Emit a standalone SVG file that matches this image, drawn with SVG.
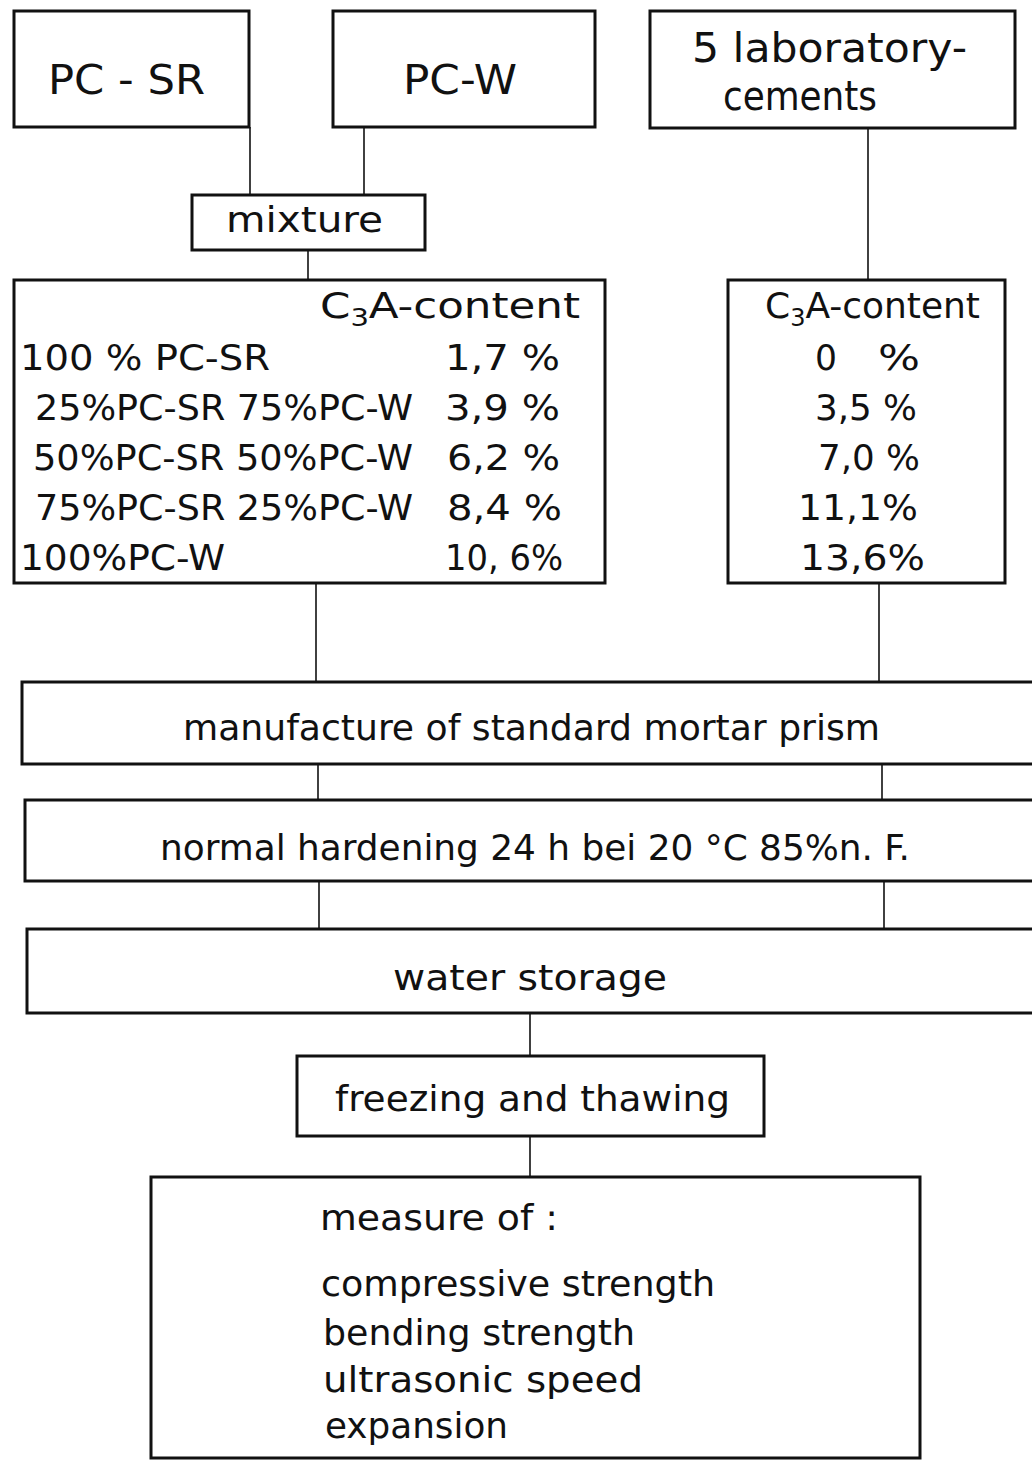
<svg xmlns="http://www.w3.org/2000/svg" width="1032" height="1461" viewBox="0 0 1032 1461">
<style>
.box{fill:none;stroke:#111;stroke-width:3}
.ln{stroke:#111;stroke-width:1.6;fill:none}
text{font-family:"DejaVu Sans Condensed","DejaVu Sans",sans-serif;fill:#111;font-size:36px}
.big{font-size:40px}
</style>
<rect width="1032" height="1461" fill="#fff"/>
<g id="connectors">
<line class="ln" x1="250" y1="127" x2="250" y2="195"/>
<line class="ln" x1="364" y1="127" x2="364" y2="195"/>
<line class="ln" x1="308" y1="250" x2="308" y2="280"/>
<line class="ln" x1="868" y1="128" x2="868" y2="280"/>
<line class="ln" x1="316" y1="583" x2="316" y2="682"/>
<line class="ln" x1="879" y1="583" x2="879" y2="682"/>
<line class="ln" x1="318" y1="764" x2="318" y2="800"/>
<line class="ln" x1="882" y1="764" x2="882" y2="800"/>
<line class="ln" x1="319" y1="881" x2="319" y2="929"/>
<line class="ln" x1="884" y1="881" x2="884" y2="929"/>
<line class="ln" x1="530" y1="1013" x2="530" y2="1056"/>
<line class="ln" x1="530" y1="1136" x2="530" y2="1177"/>
</g>
<g id="pcsr">
<rect class="box" x="14" y="11" width="235" height="116"/>
<text class="big" x="48" y="94" textLength="157" lengthAdjust="spacingAndGlyphs">PC - SR</text>
</g>
<g id="pcw">
<rect class="box" x="333" y="11" width="262" height="116"/>
<text class="big" x="403" y="94" textLength="114" lengthAdjust="spacingAndGlyphs">PC-W</text>
</g>
<g id="lab">
<rect class="box" x="650" y="11" width="365" height="117"/>
<text class="big" x="692" y="62" textLength="275" lengthAdjust="spacingAndGlyphs">5 laboratory-</text>
<text class="big" x="723" y="110" textLength="154" lengthAdjust="spacingAndGlyphs">cements</text>
</g>
<g id="mixture">
<rect class="box" x="192" y="195" width="233" height="55"/>
<text x="226" y="232" textLength="157" lengthAdjust="spacingAndGlyphs">mixture</text>
</g>
<g id="table-left">
<rect class="box" x="14" y="280" width="591" height="303"/>
<text x="320" y="318" textLength="260" lengthAdjust="spacingAndGlyphs">C<tspan font-size="24" dy="8">3</tspan><tspan dy="-8">A-content</tspan></text>
<text x="20" y="370" textLength="250" lengthAdjust="spacingAndGlyphs">100 % PC-SR</text>
<text x="445" y="370" textLength="115" lengthAdjust="spacingAndGlyphs">1,7 %</text>
<text x="35" y="420" textLength="378" lengthAdjust="spacingAndGlyphs">25%PC-SR 75%PC-W</text>
<text x="445" y="420" textLength="115" lengthAdjust="spacingAndGlyphs">3,9 %</text>
<text x="33" y="470" textLength="380" lengthAdjust="spacingAndGlyphs">50%PC-SR  50%PC-W</text>
<text x="447" y="470" textLength="113" lengthAdjust="spacingAndGlyphs">6,2 %</text>
<text x="35" y="520" textLength="378" lengthAdjust="spacingAndGlyphs">75%PC-SR 25%PC-W</text>
<text x="447" y="520" textLength="115" lengthAdjust="spacingAndGlyphs">8,4 %</text>
<text x="20" y="570" textLength="205" lengthAdjust="spacingAndGlyphs">100%PC-W</text>
<text x="445" y="570" textLength="118" lengthAdjust="spacingAndGlyphs">10, 6%</text>
</g>
<g id="table-right">
<rect class="box" x="728" y="280" width="277" height="303"/>
<text x="765" y="318" textLength="215" lengthAdjust="spacingAndGlyphs">C<tspan font-size="24" dy="8">3</tspan><tspan dy="-8">A-content</tspan></text>
<text x="815" y="370" textLength="22" lengthAdjust="spacingAndGlyphs">0</text>
<text x="878" y="370" textLength="42" lengthAdjust="spacingAndGlyphs">%</text>
<text x="815" y="420" textLength="102" lengthAdjust="spacingAndGlyphs">3,5 %</text>
<text x="818" y="470" textLength="102" lengthAdjust="spacingAndGlyphs">7,0 %</text>
<text x="798" y="520" textLength="120" lengthAdjust="spacingAndGlyphs">11,1%</text>
<text x="800" y="570" textLength="125" lengthAdjust="spacingAndGlyphs">13,6%</text>
</g>
<g id="manufacture">
<rect class="box" x="22" y="682" width="1012" height="82"/>
<text x="183" y="740" textLength="697" lengthAdjust="spacingAndGlyphs">manufacture of standard  mortar prism</text>
</g>
<g id="hardening">
<rect class="box" x="25" y="800" width="1009" height="81"/>
<text x="160" y="860" textLength="750" lengthAdjust="spacingAndGlyphs">normal hardening 24 h  bei  20 °C  85%n. F.</text>
</g>
<g id="water">
<rect class="box" x="27" y="929" width="1007" height="84"/>
<text x="393" y="990" textLength="274" lengthAdjust="spacingAndGlyphs">water  storage</text>
</g>
<g id="freezing">
<rect class="box" x="297" y="1056" width="467" height="80"/>
<text x="335" y="1111" textLength="395" lengthAdjust="spacingAndGlyphs">freezing and thawing</text>
</g>
<g id="measure">
<rect class="box" x="151" y="1177" width="769" height="281"/>
<text x="320" y="1230" textLength="238" lengthAdjust="spacingAndGlyphs">measure  of :</text>
<text x="321" y="1296" textLength="394" lengthAdjust="spacingAndGlyphs">compressive strength</text>
<text x="323" y="1345" textLength="312" lengthAdjust="spacingAndGlyphs">bending strength</text>
<text x="323" y="1392" textLength="320" lengthAdjust="spacingAndGlyphs">ultrasonic speed</text>
<text x="325" y="1438" textLength="183" lengthAdjust="spacingAndGlyphs">expansion</text>
</g>
</svg>
